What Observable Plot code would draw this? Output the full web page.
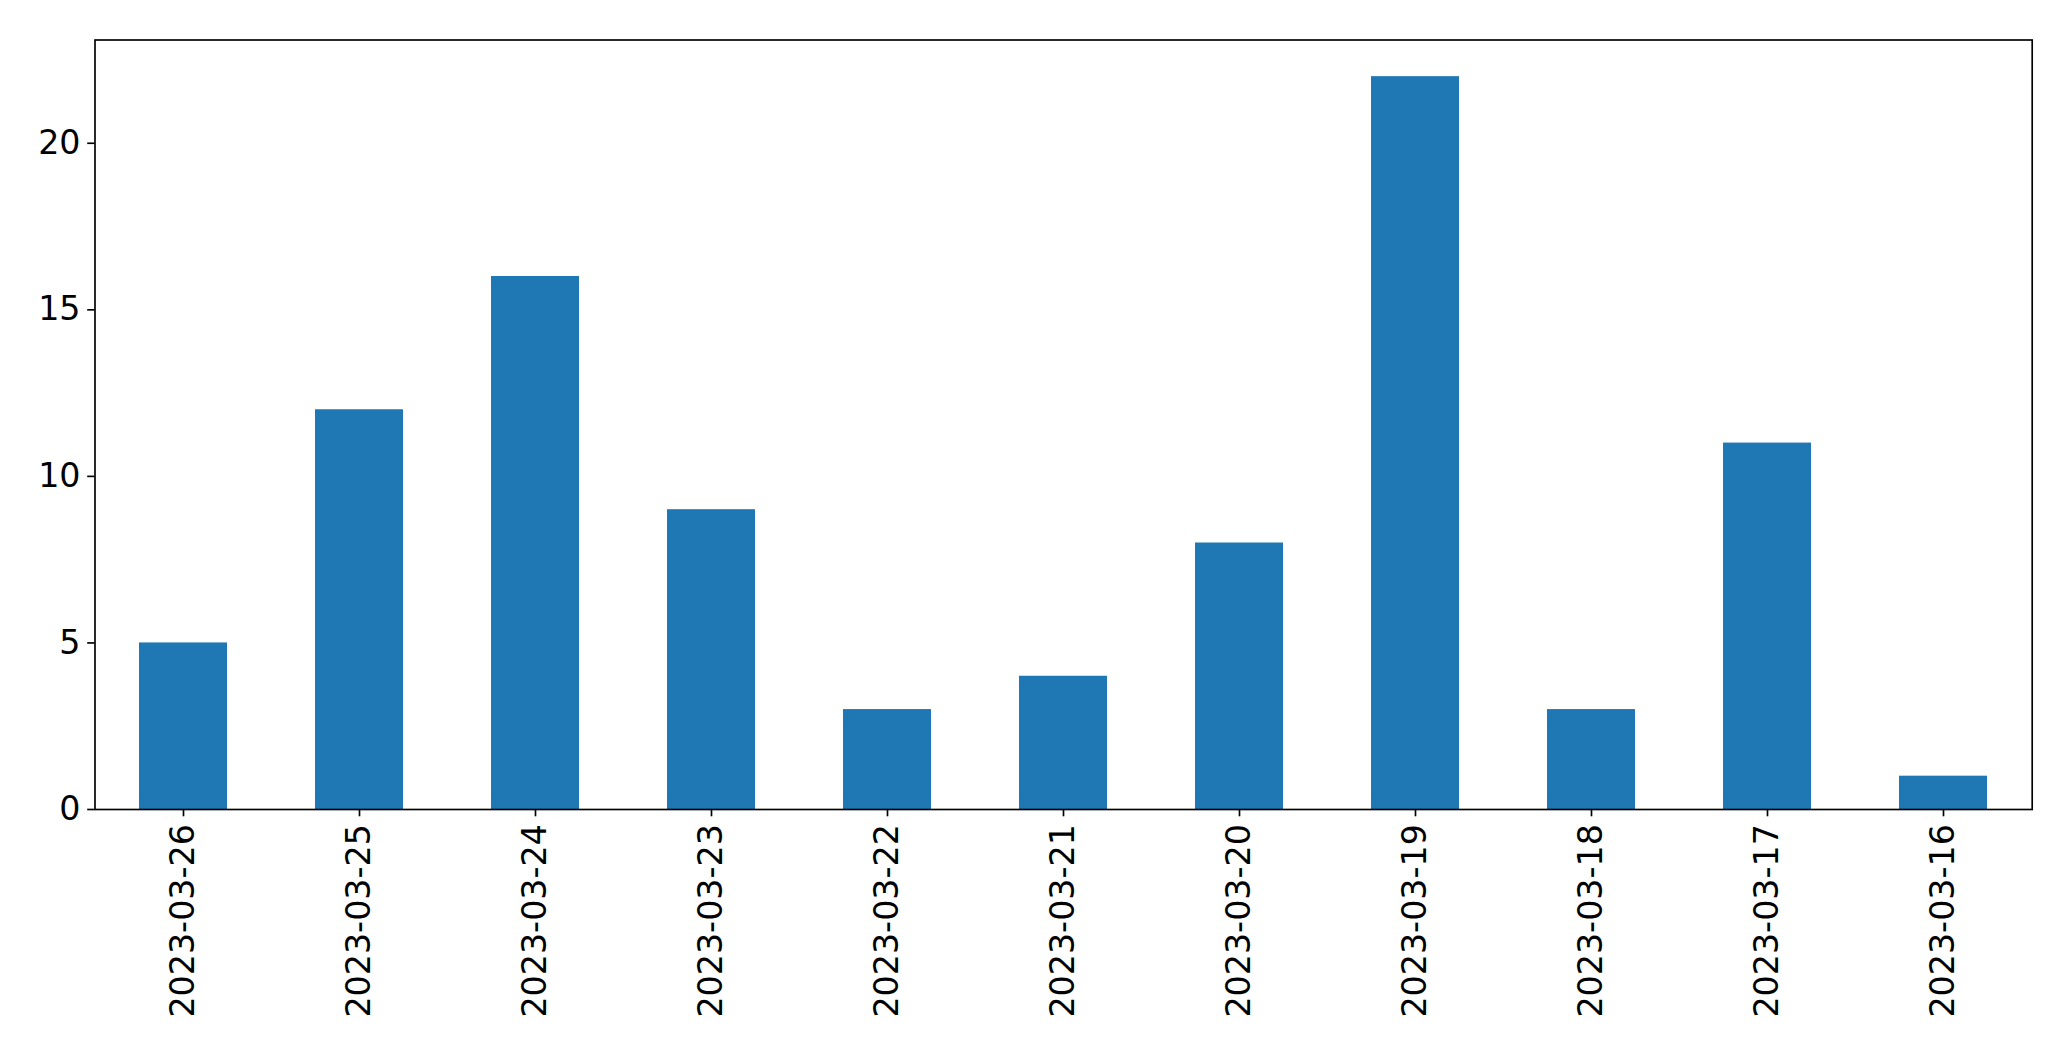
<!DOCTYPE html>
<html>
<head>
<meta charset="utf-8">
<script src="https://cdn.jsdelivr.net/npm/d3@7"></script>
<script src="https://cdn.jsdelivr.net/npm/@observablehq/plot@0.6"></script>
<style>
  html, body { margin: 0; padding: 0; background: #fff; }
  #chart svg { display: block; }
</style>
</head>
<body>
<div id="chart"></div>
<script>
const dates = ["2023-03-26","2023-03-25","2023-03-24","2023-03-23","2023-03-22","2023-03-21","2023-03-20","2023-03-19","2023-03-18","2023-03-17","2023-03-16"];
const counts = [5, 12, 16, 9, 3, 4, 8, 22, 3, 11, 1];
const yTicks = [0, 5, 10, 15, 20];

const data = dates.map((d, i) => ({date: d, count: counts[i]}));

const chart = Plot.plot({
  width: 2071,
  height: 1061,
  marginLeft: 94.5,
  marginRight: 39.3,
  marginTop: 39.5,
  marginBottom: 252,
  style: {fontFamily: "DejaVu Sans", fontSize: "33.3px", color: "black", background: "white"},
  x: {type: "band", domain: dates, paddingInner: 0.5, paddingOuter: 0.25, label: null},
  y: {domain: [0, 23.1], label: null},
  marks: [
    Plot.barY(data, {x: "date", y: "count", fill: "#1f77b4"}),
    Plot.axisY({ticks: yTicks, tickSize: 7.3, tickPadding: 7.2, strokeWidth: 1.67, fontSize: 33.3, label: null}),
    Plot.axisX({tickSize: 7.3, tickPadding: 7.3, tickRotate: -90, strokeWidth: 1.67, fontSize: 33.3, label: null}),
    Plot.frame({stroke: "black", strokeWidth: 1.67})
  ]
});
document.getElementById("chart").appendChild(chart);
</script>
</body>
</html>
